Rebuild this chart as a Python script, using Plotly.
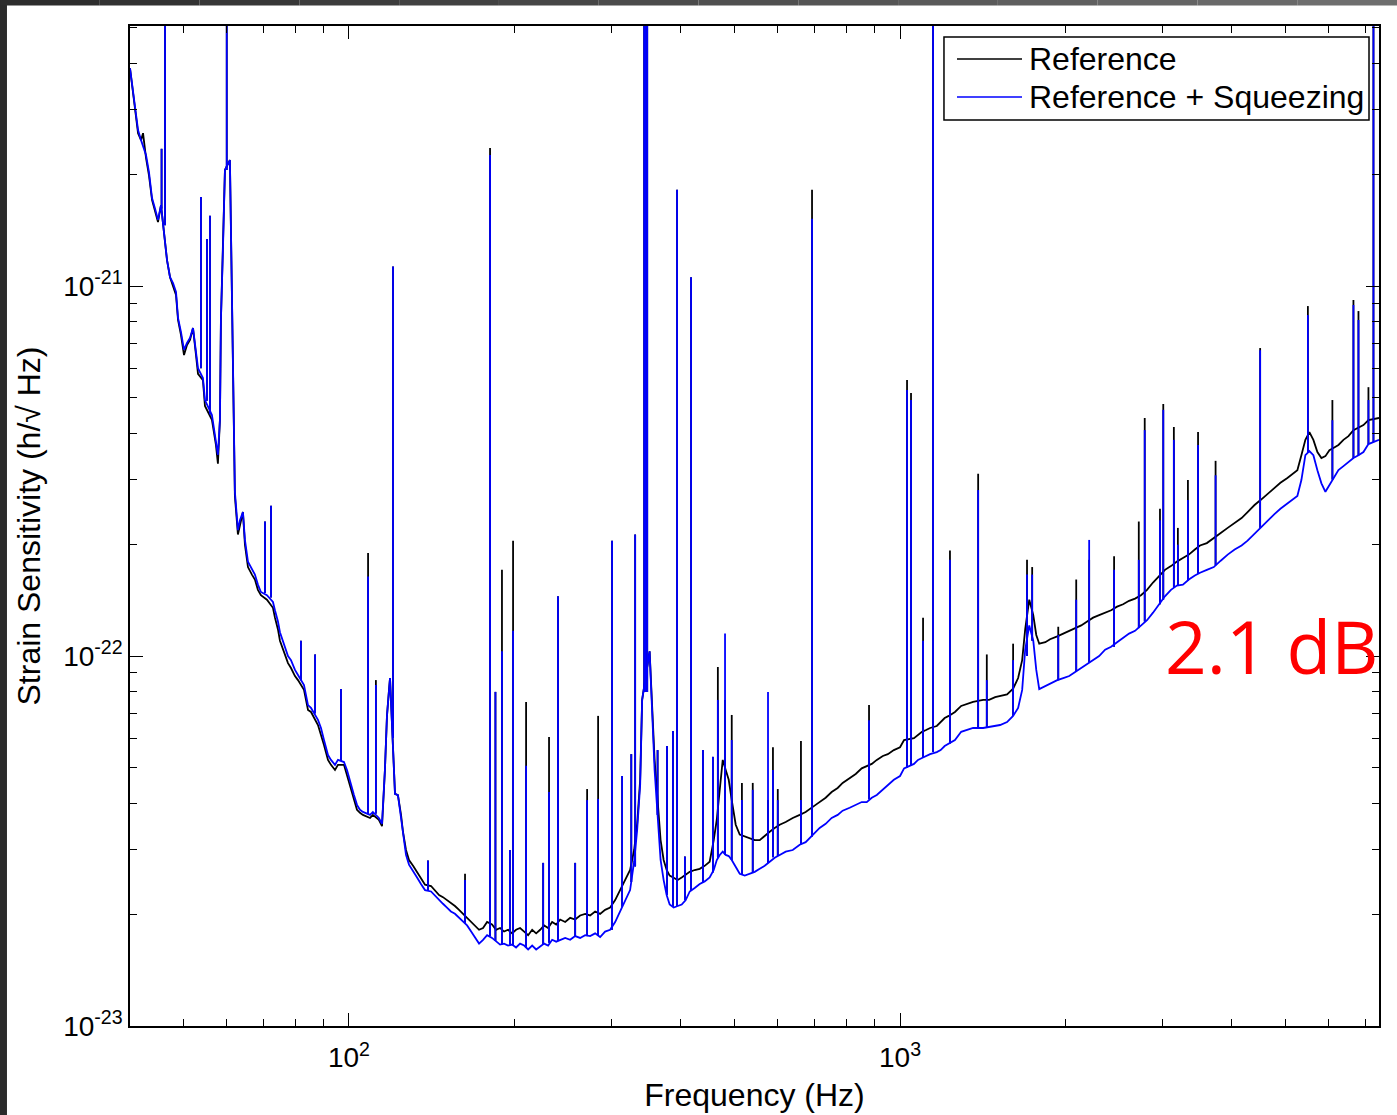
import plotly.graph_objects as go

# ---------------- data ----------------
# broadband noise floor: frequency (Hz), reference and reference+squeezing (strain/rtHz)
freq = [
    40.05, 40.39, 40.9, 41.42, 41.94, 42.29, 42.82, 43.36, 43.91, 44.46, 45.02, 45.59, 45.97,
    46.75, 47.34, 47.94, 48.54, 48.95, 49.56, 50.19, 50.82, 51.46, 52.11, 52.77, 53.21, 54.32,
    54.78, 56.4, 56.87, 57.35, 57.83, 58.32, 58.56, 59.05, 59.55, 60.8, 61.31, 61.57, 62.08,
    62.87, 63.4, 64.2, 64.74, 65.56, 66.66, 67.5, 68.35, 69.21, 70.97, 72.78, 73.39, 74.32,
    74.94, 76.21, 77.5, 78.48, 79.8, 80.81, 82.86, 84.26, 85.32, 87.85, 88.96, 90.08, 91.6,
    92.75, 94.32, 95.51, 97.93, 99.17, 100.4, 102.1, 103.4, 104.7, 106.0, 109.2, 110.5, 113.3,
    114.8, 116.2, 117.2, 118.2, 118.7, 121.2, 122.7, 124.3, 125.3, 126.9, 128.5, 130.7, 132.9,
    135.1, 137.4, 140.9, 143.2, 145.7, 148.1, 150.6, 153.1, 155.7, 158.4, 161.0, 163.8, 166.6,
    169.4, 172.2, 175.1, 178.1,
    181.8, 184.9, 188.0, 191.2, 194.4, 197.7, 201.0, 204.4, 207.9, 211.4, 215.0, 218.6, 222.3,
    226.0, 229.8, 233.7, 237.7, 241.7, 246.8, 252.0, 257.3, 262.7, 268.3, 273.9, 279.7, 285.6,
    291.6, 297.8, 304.1, 310.5, 317.0, 323.7, 329.2, 333.4, 337.6, 340.4, 351.2, 354.2, 358.6,
    363.1, 367.7, 372.4, 377.1, 381.9, 388.4, 394.9, 401.6, 408.4, 415.3, 424.0, 433.0, 442.1,
    451.4, 459.1, 465.0, 470.8, 476.7, 482.7, 488.8, 495.0, 503.3, 511.8, 522.6, 533.6, 544.9,
    556.4, 568.1, 580.1, 592.3, 604.8, 620.2, 638.7, 657.6, 674.1, 702.8, 714.7, 732.9, 751.5,
    770.6, 786.8, 810.3, 830.9, 852.1, 870.2, 888.6, 907.5, 930.6, 950.3, 974.5, 1000, 1017,
    1060, 1078, 1096, 1115, 1134, 1166, 1185, 1205, 1226, 1258, 1291, 1323, 1357, 1415, 1451,
    1488, 1519, 1564, 1604, 1638, 1666, 1687, 1716, 1745, 1767, 1789, 1835, 1872, 1929, 1978,
    2028, 2079, 2132, 2186, 2241, 2298, 2356, 2416, 2477, 2540, 2604, 2670, 2737, 2807, 2878,
    2951, 3025, 3102, 3180, 3261, 3343, 3428, 3503, 3604, 3710, 3819, 3932, 4048, 4167, 4273,
    4399, 4511, 4643, 4780, 4901, 5046, 5174, 5261, 5350, 5440, 5532, 5625, 5720, 5817, 5915,
    6015, 6116, 6246, 6378, 6513, 6650, 6791, 6934, 7080, 7230, 7401,
]
reference = [
    3.88e-21, 3.49e-21, 2.99e-21, 2.59e-21, 2.48e-21, 2.59e-21, 2.22e-21, 1.99e-21, 1.71e-21,
    1.60e-21, 1.49e-21, 1.655e-21, 1.46e-21, 1.175e-21, 1.057e-21, 1.006e-21, 9.46e-22, 8.10e-22,
    7.37e-22, 6.51e-22, 6.93e-22, 7.15e-22, 7.70e-22, 6.51e-22, 5.79e-22, 5.57e-22, 4.74e-22,
    4.35e-22, 4.03e-22, 3.72e-22, 3.31e-22, 4.35e-22, 8.10e-22, 1.25e-21, 2.06e-21, 2.19e-21,
    9.17e-22, 4.92e-22, 2.71e-22, 2.13e-22, 2.26e-22, 2.45e-22, 2.00e-22, 1.74e-22, 1.66e-22,
    1.61e-22, 1.51e-22, 1.46e-22, 1.42e-22, 1.35e-22, 1.27e-22, 1.18e-22, 1.10e-22, 1.03e-22,
    9.57e-23, 9.28e-23, 8.83e-23, 8.61e-23, 8.10e-23, 7.15e-23, 7.06e-23, 6.51e-23, 6.16e-23,
    5.75e-23, 5.24e-23, 5.08e-23, 4.92e-23, 5.08e-23, 5.08e-23, 4.77e-23, 4.43e-23, 4.08e-23,
    3.84e-23, 3.77e-23, 3.72e-23, 3.65e-23, 3.72e-23, 3.61e-23, 3.47e-23, 4.92e-23, 6.89e-23,
    8.10e-23, 8.72e-23, 4.24e-23, 4.21e-23, 3.72e-23, 3.35e-23, 2.99e-23, 2.81e-23, 2.71e-23,
    2.61e-23, 2.52e-23, 2.41e-23, 2.39e-23, 2.33e-23, 2.26e-23, 2.23e-23, 2.19e-23, 2.15e-23,
    2.11e-23, 2.06e-23, 2.01e-23, 1.96e-23, 1.91e-23, 1.87e-23, 1.82e-23, 1.84e-23, 1.91e-23,
    1.88e-23, 1.82e-23, 1.84e-23, 1.80e-23, 1.82e-23, 1.78e-23, 1.82e-23, 1.84e-23, 1.80e-23,
    1.76e-23, 1.82e-23, 1.78e-23, 1.82e-23, 1.87e-23, 1.84e-23, 1.91e-23, 1.88e-23, 1.94e-23,
    1.91e-23, 1.96e-23, 1.94e-23, 1.99e-23, 2.01e-23, 1.99e-23, 2.04e-23, 2.01e-23, 2.06e-23,
    2.09e-23, 2.19e-23, 2.33e-23, 2.48e-23, 2.64e-23, 2.99e-23, 3.52e-23, 4.63e-23, 7.61e-23,
    1.03e-22, 7.61e-23, 5.24e-23, 4.08e-23, 3.18e-23, 2.81e-23, 2.64e-23, 2.55e-23, 2.52e-23,
    2.48e-23, 2.52e-23, 2.56e-23, 2.61e-23, 2.64e-23, 2.66e-23, 2.71e-23, 2.78e-23, 3.18e-23,
    3.61e-23, 4.35e-23, 5.24e-23, 4.92e-23, 4.63e-23, 4.08e-23, 3.50e-23, 3.29e-23, 3.25e-23,
    3.22e-23, 3.18e-23, 3.18e-23, 3.27e-23, 3.35e-23, 3.43e-23, 3.50e-23, 3.56e-23, 3.65e-23,
    3.72e-23, 3.79e-23, 3.96e-23, 4.03e-23, 4.14e-23, 4.29e-23, 4.40e-23, 4.54e-23, 4.69e-23,
    4.80e-23, 4.97e-23, 5.03e-23, 5.11e-23, 5.24e-23, 5.37e-23, 5.43e-23, 5.57e-23, 5.67e-23,
    5.93e-23, 6.00e-23, 6.12e-23, 6.24e-23, 6.31e-23, 6.39e-23, 6.47e-23, 6.63e-23, 6.80e-23,
    6.89e-23, 7.06e-23, 7.33e-23, 7.42e-23, 7.52e-23, 7.61e-23, 7.61e-23, 7.74e-23, 7.79e-23,
    7.88e-23, 8.16e-23, 8.72e-23, 9.75e-23, 1.18e-22, 1.42e-22, 1.29e-22, 1.14e-22, 1.08e-22,
    1.09e-22, 1.11e-22, 1.13e-22, 1.15e-22, 1.17e-22, 1.19e-22, 1.21e-22, 1.24e-22, 1.27e-22,
    1.29e-22, 1.31e-22, 1.33e-22, 1.36e-22, 1.38e-22, 1.41e-22, 1.43e-22, 1.46e-22, 1.51e-22,
    1.58e-22, 1.64e-22, 1.71e-22, 1.75e-22, 1.80e-22, 1.84e-22, 1.88e-22, 1.94e-22, 1.99e-22,
    2.02e-22, 2.08e-22, 2.15e-22, 2.22e-22, 2.29e-22, 2.36e-22, 2.45e-22, 2.56e-22, 2.64e-22,
    2.74e-22, 2.84e-22, 2.94e-22, 3.03e-22, 3.12e-22, 3.18e-22, 3.49e-22, 3.84e-22, 4.03e-22,
    3.84e-22, 3.56e-22, 3.43e-22, 3.47e-22, 3.60e-22, 3.65e-22, 3.72e-22, 3.84e-22, 3.93e-22,
    4.08e-22, 4.14e-22, 4.21e-22, 4.34e-22, 4.37e-22, 4.40e-22,
]
squeezed = [
    3.88e-21, 3.49e-21, 3.03e-21, 2.64e-21, 2.48e-21, 2.40e-21, 2.26e-21, 2.03e-21, 1.73e-21,
    1.62e-21, 1.51e-21, 1.655e-21, 1.46e-21, 1.175e-21, 1.057e-21, 1.019e-21, 9.64e-22, 8.20e-22,
    7.51e-22, 6.72e-22, 7.02e-22, 7.24e-22, 7.70e-22, 6.63e-22, 6.00e-22, 5.64e-22, 4.92e-22,
    4.48e-22, 4.14e-22, 3.84e-22, 3.50e-22, 4.35e-22, 8.10e-22, 1.25e-21, 2.06e-21, 2.19e-21,
    9.17e-22, 4.92e-22, 2.78e-22, 2.19e-22, 2.33e-22, 2.45e-22, 2.06e-22, 1.80e-22, 1.71e-22,
    1.66e-22, 1.56e-22, 1.49e-22, 1.46e-22, 1.40e-22, 1.33e-22, 1.24e-22, 1.16e-22, 1.07e-22,
    1.00e-22, 9.75e-23, 9.17e-23, 8.89e-23, 8.35e-23, 7.37e-23, 7.24e-23, 6.72e-23, 6.39e-23,
    5.93e-23, 5.40e-23, 5.24e-23, 5.08e-23, 5.24e-23, 5.17e-23, 4.92e-23, 4.57e-23, 4.21e-23,
    3.96e-23, 3.84e-23, 3.79e-23, 3.72e-23, 3.79e-23, 3.65e-23, 3.52e-23, 4.92e-23, 6.89e-23,
    8.10e-23, 8.72e-23, 4.24e-23, 4.21e-23, 3.65e-23, 3.29e-23, 2.90e-23, 2.73e-23, 2.61e-23,
    2.52e-23, 2.42e-23, 2.33e-23, 2.31e-23, 2.25e-23, 2.19e-23, 2.14e-23, 2.09e-23, 2.04e-23,
    2.01e-23, 1.96e-23, 1.91e-23, 1.87e-23, 1.80e-23, 1.73e-23, 1.67e-23, 1.71e-23, 1.76e-23,
    1.73e-23, 1.69e-23, 1.66e-23, 1.67e-23, 1.65e-23, 1.66e-23, 1.63e-23, 1.67e-23, 1.65e-23,
    1.61e-23, 1.65e-23, 1.61e-23, 1.64e-23, 1.67e-23, 1.65e-23, 1.71e-23, 1.69e-23, 1.71e-23,
    1.73e-23, 1.71e-23, 1.75e-23, 1.73e-23, 1.76e-23, 1.75e-23, 1.78e-23, 1.74e-23, 1.80e-23,
    1.82e-23, 1.91e-23, 2.04e-23, 2.19e-23, 2.33e-23, 2.78e-23, 3.39e-23, 4.48e-23, 7.61e-23,
    1.03e-22, 7.37e-23, 4.92e-23, 3.72e-23, 2.81e-23, 2.48e-23, 2.26e-23, 2.13e-23, 2.09e-23,
    2.11e-23, 2.13e-23, 2.19e-23, 2.31e-23, 2.36e-23, 2.42e-23, 2.46e-23, 2.52e-23, 2.64e-23,
    2.81e-23, 2.90e-23, 2.96e-23, 2.90e-23, 2.88e-23, 2.81e-23, 2.68e-23, 2.58e-23, 2.55e-23,
    2.58e-23, 2.61e-23, 2.66e-23, 2.71e-23, 2.78e-23, 2.85e-23, 2.90e-23, 2.96e-23, 2.99e-23,
    3.09e-23, 3.14e-23, 3.35e-23, 3.43e-23, 3.52e-23, 3.65e-23, 3.72e-23, 3.82e-23, 3.89e-23,
    3.96e-23, 4.03e-23, 4.03e-23, 4.14e-23, 4.21e-23, 4.35e-23, 4.46e-23, 4.63e-23, 4.74e-23,
    4.97e-23, 5.11e-23, 5.24e-23, 5.30e-23, 5.37e-23, 5.43e-23, 5.50e-23, 5.57e-23, 5.71e-23,
    5.79e-23, 5.93e-23, 6.24e-23, 6.31e-23, 6.39e-23, 6.39e-23, 6.43e-23, 6.47e-23, 6.51e-23,
    6.63e-23, 6.89e-23, 7.24e-23, 8.10e-23, 1.04e-22, 1.21e-22, 1.10e-22, 9.17e-23, 8.14e-23,
    8.30e-23, 8.40e-23, 8.61e-23, 8.72e-23, 8.83e-23, 9.06e-23, 9.28e-23, 9.51e-23, 9.75e-23,
    1.00e-22, 1.04e-22, 1.06e-22, 1.09e-22, 1.12e-22, 1.15e-22, 1.17e-22, 1.21e-22, 1.25e-22,
    1.31e-22, 1.38e-22, 1.45e-22, 1.51e-22, 1.55e-22, 1.56e-22, 1.61e-22, 1.65e-22, 1.68e-22,
    1.71e-22, 1.74e-22, 1.81e-22, 1.88e-22, 1.94e-22, 1.99e-22, 2.05e-22, 2.14e-22, 2.22e-22,
    2.33e-22, 2.42e-22, 2.50e-22, 2.59e-22, 2.67e-22, 2.71e-22, 2.99e-22, 3.49e-22, 3.58e-22,
    3.49e-22, 3.18e-22, 2.93e-22, 2.78e-22, 2.90e-22, 3.03e-22, 3.18e-22, 3.26e-22, 3.35e-22,
    3.43e-22, 3.49e-22, 3.56e-22, 3.74e-22, 3.79e-22, 3.84e-22,
]

# narrow spectral lines: frequency, peak height of each curve, noise floor under the line
line_freq = [
    45.7, 46.36, 53.87, 55.24, 55.94, 60.0, 70.4, 72.2, 81.8, 86.8, 96.7, 108.3, 111.9, 120.2,
    139.1, 162.4, 180.3, 184.4, 189.5, 195.9, 198.5, 209.6, 225.1, 230.7, 239.5, 257.3, 270.5,
    283.2, 300.2, 313.1, 325.3, 330.6, 343.3, 345.5, 347.7, 363.1, 377.7, 387.2, 393.9, 407.0,
    417.6, 438.9, 457.5, 467.1, 481.3, 495.0, 516.5, 540.4, 576.0, 588.0, 600.0, 661.0, 692.3,
    878.5, 1029.7, 1047.0, 1101.0, 1148.0, 1232.0, 1386.0, 1437.0, 1604.0, 1700.0, 1737.0,
    1937.0, 2088.0, 2204.0, 2446.0, 2712.0, 2780.0, 2963.0, 3004.0, 3140.0, 3193.0, 3330.0,
    3474.0, 3738.0, 4503.0, 5497.0, 6090.0, 6650.0, 6791.0, 7080.0, 7230.0,
]
reference_line = [
    2.35e-21, 1e-20, 1.74e-21, 1.34e-21, 1.55e-21, 1e-20, 2.31e-22, 2.55e-22, 1.10e-22, 1.01e-22,
    8.14e-23, 1.90e-22, 8.61e-23, 1.13e-21, 2.80e-23, 2.58e-23, 2.36e-21, 8.0e-23, 1.71e-22,
    2.99e-23, 2.05e-22, 7.51e-23, 2.76e-23, 6.04e-23, 1.45e-22, 2.76e-23, 4.37e-23, 6.89e-23,
    2.05e-22, 4.74e-23, 5.43e-23, 2.13e-22, 1e-20, 1e-20, 1e-20, 5.57e-23, 5.71e-23, 6.27e-23,
    1.82e-21, 2.87e-23, 1.057e-21, 5.57e-23, 5.34e-23, 9.34e-23, 7.61e-23, 6.93e-23, 4.54e-23,
    4.54e-23, 4.08e-23, 5.67e-23, 4.37e-23, 5.89e-23, 1.82e-21, 7.37e-23, 5.57e-22, 5.14e-22,
    1.27e-22, 1e-20, 1.93e-22, 3.11e-22, 1.01e-22, 1.08e-22, 1.82e-22, 1.74e-22, 1.2e-22,
    1.61e-22, 1.82e-22, 1.86e-22, 2.31e-22, 4.40e-22, 2.50e-22, 4.80e-22, 4.16e-22, 2.22e-22,
    2.99e-22, 4.03e-22, 3.37e-22, 6.80e-22, 8.83e-22, 4.92e-22, 9.17e-22, 8.56e-22, 5.33e-22,
    1e-20,
]
squeezed_line = [
    2.35e-21, 1e-20, 1.74e-21, 1.34e-21, 1.55e-21, 1e-20, 2.31e-22, 2.55e-22, 1.10e-22, 1.01e-22,
    8.14e-23, 1.64e-22, 8.35e-23, 1.13e-21, 2.80e-23, 2.48e-23, 2.26e-21, 8.0e-23, 1.03e-22,
    2.99e-23, 1.17e-22, 5.05e-23, 2.76e-23, 4.29e-23, 1.45e-22, 2.76e-23, 4.08e-23, 4.11e-23,
    2.05e-22, 4.74e-23, 5.43e-23, 2.13e-22, 1e-20, 1e-20, 1e-20, 5.57e-23, 5.71e-23, 6.27e-23,
    1.82e-21, 2.87e-23, 1.057e-21, 5.57e-23, 5.34e-23, 7.61e-23, 1.15e-22, 5.93e-23, 4.08e-23,
    4.35e-23, 8.00e-23, 4.92e-23, 4.08e-23, 4.08e-23, 1.52e-21, 6.71e-23, 5.24e-22, 4.92e-22,
    1.10e-22, 1e-20, 1.82e-22, 2.81e-22, 8.61e-23, 9.75e-23, 1.66e-22, 1.66e-22, 1.14e-22,
    1.42e-22, 2.06e-22, 1.71e-22, 1.82e-22, 4.08e-22, 2.33e-22, 4.63e-22, 3.84e-22, 2.00e-22,
    2.64e-22, 3.72e-22, 3.08e-22, 6.71e-22, 8.35e-22, 4.34e-22, 8.89e-22, 8.10e-22, 4.92e-22,
    1e-20,
]
line_floor = [
    1.62e-21, 1.46e-21, 6.0e-22, 4.9e-22, 4.5e-22, 2.06e-21, 1.48e-22, 1.44e-22, 8.6e-23, 7.0e-23,
    5.2e-23, 3.75e-23, 3.75e-23, 6.0e-23, 2.32e-23, 1.9e-23, 1.75e-23, 1.7e-23, 1.66e-23,
    1.66e-23, 1.65e-23, 1.63e-23, 1.66e-23, 1.68e-23, 1.7e-23, 1.75e-23, 1.75e-23, 1.76e-23,
    1.82e-23, 2.1e-23, 2.45e-23, 2.7e-23, 8e-23, 8e-23, 8e-23, 3.72e-23, 2.26e-23, 2.1e-23,
    2.11e-23, 2.19e-23, 2.32e-23, 2.45e-23, 2.6e-23, 2.85e-23, 2.9e-23, 2.81e-23, 2.56e-23,
    2.6e-23, 2.76e-23, 2.86e-23, 2.88e-23, 3.1e-23, 3.25e-23, 4.1e-23, 5.0e-23, 5.05e-23,
    5.3e-23, 5.5e-23, 5.8e-23, 6.4e-23, 6.4e-23, 6.89e-23, 1.0e-22, 1.1e-22, 8.6e-23,
    9.1e-23, 9.6e-23, 1.06e-22, 1.19e-22, 1.24e-22, 1.38e-22, 1.42e-22, 1.53e-22, 1.55e-22,
    1.6e-22, 1.67e-22, 1.76e-22, 2.22e-22, 3.55e-22, 3.0e-22, 3.43e-22, 3.49e-22, 3.74e-22,
    3.79e-22,
]

series_names = ["Reference", "Reference + Squeezing"]
x_major = [100, 1000]
x_major_text = ["10<sup>2</sup>", "10<sup>3</sup>"]
x_minor = [50, 60, 70, 80, 90, 200, 300, 400, 500, 600, 700, 800, 900,
           2000, 3000, 4000, 5000, 6000, 7000]
y_major = [1e-23, 1e-22, 1e-21]
y_major_text = ["10<sup>-23</sup>", "10<sup>-22</sup>", "10<sup>-21</sup>"]
y_minor = [2e-23, 3e-23, 4e-23, 5e-23, 6e-23, 7e-23, 8e-23, 9e-23,
           2e-22, 3e-22, 4e-22, 5e-22, 6e-22, 7e-22, 8e-22, 9e-22,
           2e-21, 3e-21, 4e-21, 5e-21]
annotation_text = "2.1 dB"

FONT = "Liberation Sans, Arial, sans-serif"
BLACK = "#000000"
BLUE = "#0000ff"


def spike_path(freqs, tops, floors):
    xs, ys = [], []
    for f, t, b in zip(freqs, tops, floors):
        xs += [f, f, None]
        ys += [b, t, None]
    return xs, ys


fig = go.Figure()
for name, base, peaks, color in [
    (series_names[0], reference, reference_line, BLACK),
    (series_names[1], squeezed, squeezed_line, BLUE),
]:
    fig.add_trace(go.Scatter(x=freq, y=base, mode="lines", name=name,
                             line=dict(color=color, width=1.8), hoverinfo="skip",
                             showlegend=False))
    sx, sy = spike_path(line_freq, peaks, line_floor)
    fig.add_trace(go.Scatter(x=sx, y=sy, mode="lines", name=name,
                             line=dict(color=color, width=1.8), hoverinfo="skip",
                             showlegend=False, connectgaps=False))

axis_common = dict(
    type="log", showgrid=False, zeroline=False, showline=True, linecolor=BLACK,
    linewidth=1.5, mirror="allticks", ticks="inside", ticklen=13, tickwidth=1.3,
    tickcolor=BLACK, tickfont=dict(family=FONT, size=28, color=BLACK),
    automargin=False, tickmode="array",
)

fig.update_layout(
    width=1397, height=1115, template="none",
    margin=dict(l=130, r=18, t=26, b=89),
    paper_bgcolor="white", plot_bgcolor="white",
    showlegend=False,
    xaxis=dict(
        axis_common, range=[1.6026, 3.8692], tickvals=x_major, ticktext=x_major_text,
        ticklabelstandoff=6,
        minor=dict(tickmode="array", tickvals=x_minor, ticks="inside", ticklen=7,
                   tickwidth=1.3, tickcolor=BLACK, showgrid=False),
        title=dict(text="Frequency (Hz)", font=dict(family=FONT, size=32, color=BLACK),
                   standoff=11),
    ),
    yaxis=dict(
        axis_common, range=[-23, -20.297], tickvals=y_major, ticktext=y_major_text,
        minor=dict(tickmode="array", tickvals=y_minor, ticks="inside", ticklen=7,
                   tickwidth=1.3, tickcolor=BLACK, showgrid=False),
        title=dict(text="Strain Sensitivity (h/\u221a Hz)",
                   font=dict(family=FONT, size=32, color=BLACK), standoff=13),
    ),
)

# manual legend (box, sample lines, labels) in plot-area coordinates
shapes = [
    dict(type="rect", xref="paper", yref="paper", x0=0.6517, x1=0.992, y0=0.906, y1=0.989,
         line=dict(color=BLACK, width=1.5), fillcolor="white", layer="above"),
    dict(type="line", xref="paper", yref="paper", x0=0.6621, x1=0.7142, y0=0.967, y1=0.967,
         line=dict(color=BLACK, width=1.5), layer="above"),
    dict(type="line", xref="paper", yref="paper", x0=0.6621, x1=0.7142, y0=0.929, y1=0.929,
         line=dict(color=BLUE, width=1.5), layer="above"),
]
# dark frame of the screenshot (left strip and shaded top strip)
shapes.append(dict(type="rect", xref="paper", yref="paper", x0=-0.10408, x1=-0.0985,
                   y0=-0.09, y1=1.027, line=dict(width=0), fillcolor="#2b2b2b", layer="above"))
n_seg = 14
for i in range(n_seg):
    g = int(0x2d + (0x6e - 0x2d) * i / (n_seg - 1))
    x0 = -0.10408 + (1.01441 + 0.10408) * i / n_seg
    x1 = -0.10408 + (1.01441 + 0.10408) * (i + 1) / n_seg
    shapes.append(dict(type="rect", xref="paper", yref="paper", x0=x0, x1=x1,
                       y0=1.0205, y1=1.027, line=dict(width=0),
                       fillcolor=f"rgb({g},{g},{g})", layer="above"))
fig.update_layout(shapes=shapes)

annotations = [
    dict(xref="paper", yref="paper", x=0.7182, y=0.967, xanchor="left", yanchor="middle",
         text=series_names[0], showarrow=False, font=dict(family=FONT, size=32, color=BLACK)),
    dict(xref="paper", yref="paper", x=0.7182, y=0.929, xanchor="left", yanchor="middle",
         text=series_names[1], showarrow=False, font=dict(family=FONT, size=32, color=BLACK)),
    dict(xref="paper", yref="paper", x=0.8267, y=0.381, xanchor="left", yanchor="middle",
         text=annotation_text, showarrow=False,
         font=dict(family="Open Sans, Noto Sans, sans-serif", size=73, color="#ff0000")),
]
fig.update_layout(annotations=annotations)

fig.write_html("out.html")
